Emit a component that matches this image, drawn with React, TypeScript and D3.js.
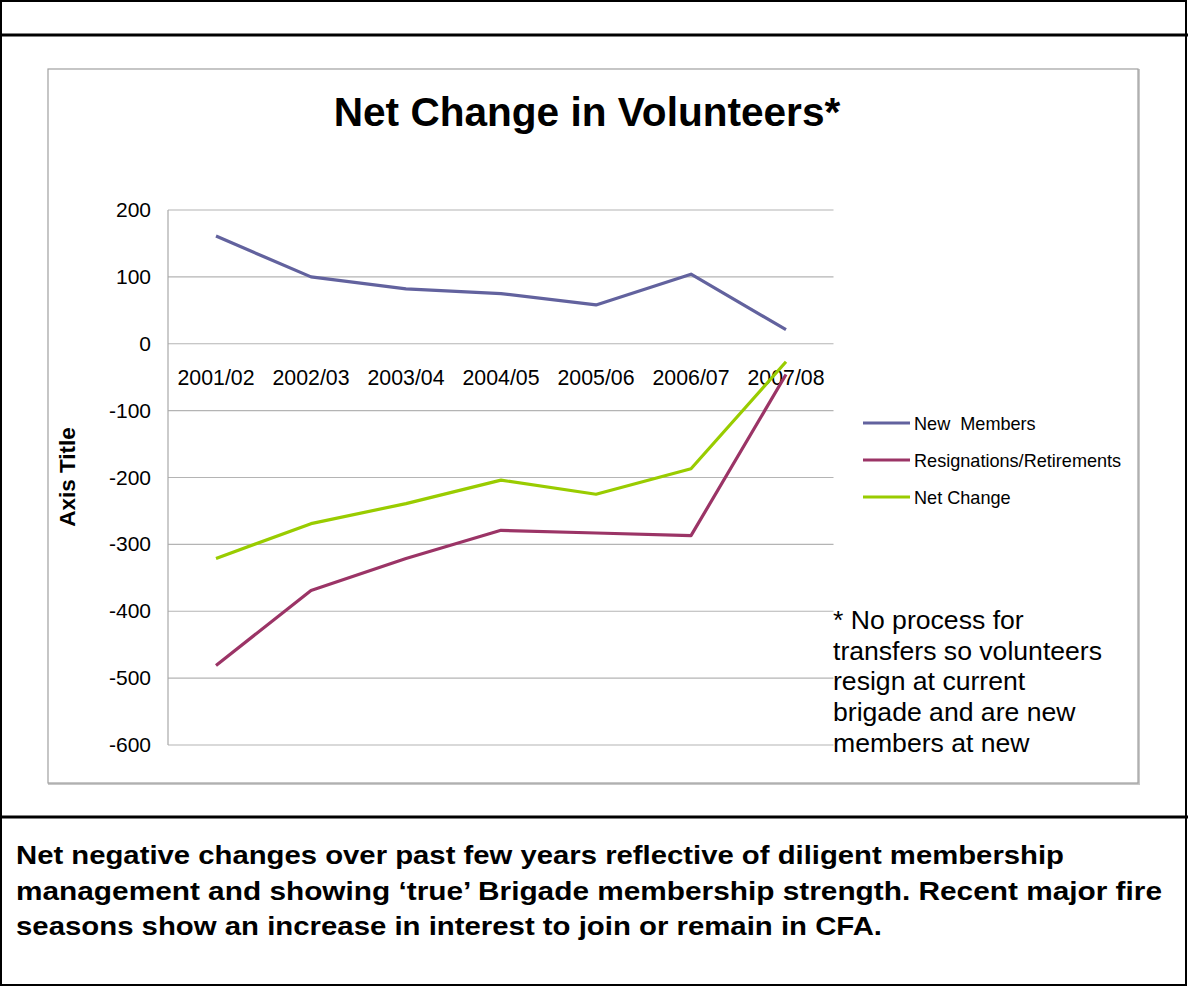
import React from "react";
import * as d3 from "d3";

const categories = ["2001/02", "2002/03", "2003/04", "2004/05", "2005/06", "2006/07", "2007/08"];
const newMembers = [161, 100, 82, 75, 58, 104, 21];
const resignations = [-481, -369, -321, -279, -283, -287, -46];
const netChange = [-321, -269, -239, -204, -225, -187, -27];
const yTicks = [200, 100, 0, -100, -200, -300, -400, -500, -600];
const seriesNames = ["New  Members", "Resignations/Retirements", "Net Change"];
const seriesColors = ["#62629e", "#9b3466", "#99cc00"];
const noteLines = ["* No process for", "transfers so volunteers", "resign at current", "brigade and are new", "members at new"];
const bottomLines = [
  "Net negative changes over past few years reflective of diligent membership",
  "management and showing \u2018true\u2019 Brigade membership strength. Recent major fire",
  "seasons show an increase in interest to join or remain in CFA.",
];
const bottomWidths = [1048, 1146, 866];

const W = 1188;
const H = 987;
const FONT = "Liberation Sans, Arial, sans-serif";

export default function App() {
  const x = d3.scaleBand<string>().domain(categories).range([168.5, 833.5]);
  const y = d3.scaleLinear().domain([-600, 200]).range([745, 210]);
  const series = [newMembers, resignations, netChange];
  const line = d3
    .line<number>()
    .x((_, i) => (x(categories[i]) as number) + x.bandwidth() / 2)
    .y((d) => y(d));

  return (
    <svg width={W} height={H} style={{ position: "absolute", left: 0, top: 0, display: "block" }} fontFamily={FONT}>
      <rect x={0} y={0} width={W} height={H} fill="#fff" />
      {/* outer frame */}
      <rect x={1} y={1} width={W - 3} height={H - 3} fill="none" stroke="#000" strokeWidth={2} />
      <line x1={0} x2={W} y1={35} y2={35} stroke="#000" strokeWidth={3} />
      <line x1={0} x2={W} y1={817} y2={817} stroke="#000" strokeWidth={3} />

      {/* chart box */}
      <rect x={49} y={70} width={1090} height={714} fill="none" stroke="#c8c8c8" strokeWidth={2} />
      <rect x={48} y={69} width={1090} height={714} fill="#fff" stroke="#a0a0a0" strokeWidth={1.2} />

      <text x={587} y={126} textAnchor="middle" fontSize={40.6} fontWeight="bold" fill="#000">
        Net Change in Volunteers*
      </text>

      {/* gridlines */}
      {yTicks.map((t) => (
        <line key={t} x1={168} x2={833.5} y1={y(t)} y2={y(t)} stroke="#b4b4b4" strokeWidth={1.2} />
      ))}
      <line x1={168} x2={168} y1={210} y2={745} stroke="#a8a8a8" strokeWidth={1.2} />

      {/* y tick labels */}
      {yTicks.map((t) => (
        <text key={t} x={151} y={y(t) + 7} textAnchor="end" fontSize={21} fill="#000">
          {t}
        </text>
      ))}

      {/* category labels */}
      {categories.map((c) => (
        <text key={c} x={(x(c) as number) + x.bandwidth() / 2} y={385} textAnchor="middle" fontSize={21.3} fill="#000">
          {c}
        </text>
      ))}

      {/* axis title */}
      <text
        transform={`translate(75,477) rotate(-90)`}
        textAnchor="middle"
        fontSize={22.5}
        fontWeight="bold"
        fill="#000"
      >
        Axis Title
      </text>

      {/* lines */}
      {series.map((s, i) => (
        <path key={i} d={line(s) || ""} fill="none" stroke={seriesColors[i]} strokeWidth={3.2} strokeLinejoin="round" />
      ))}

      {/* legend */}
      {seriesNames.map((n, i) => (
        <g key={n} transform={`translate(863,${423 + i * 37})`}>
          <line x1={0} x2={47} y1={0} y2={0} stroke={seriesColors[i]} strokeWidth={3.2} />
          <text x={51} y={6.5} fontSize={18.1} fill="#000" style={{ whiteSpace: "pre" }}>
            {n}
          </text>
        </g>
      ))}

      {/* note */}
      {noteLines.map((l, i) => (
        <text key={i} x={833} y={629 + i * 30.7} fontSize={26.6} fill="#000">
          {l}
        </text>
      ))}

      {/* bottom text */}
      {bottomLines.map((l, i) => (
        <text
          key={i}
          x={16}
          y={864 + i * 35.5}
          fontSize={25}
          fontWeight="bold"
          fill="#000"
          textLength={bottomWidths[i]}
          lengthAdjust="spacingAndGlyphs"
        >
          {l}
        </text>
      ))}
    </svg>
  );
}
